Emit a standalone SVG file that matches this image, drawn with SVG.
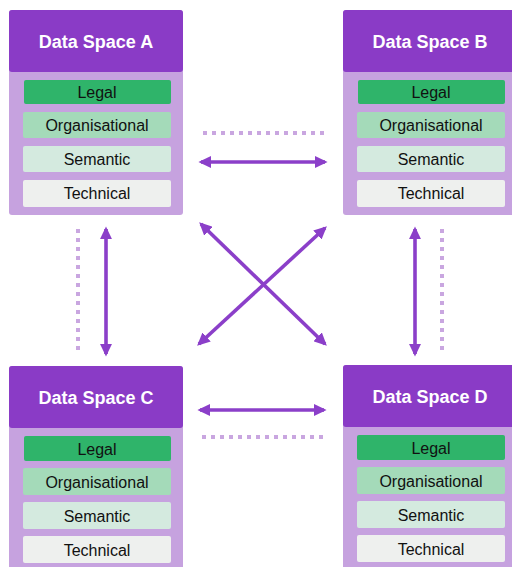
<svg xmlns="http://www.w3.org/2000/svg" width="512" height="567" viewBox="0 0 512 567">
  <defs>
    <marker id="head" viewBox="0 0 10 10" refX="8" refY="5" markerWidth="3.6" markerHeight="3.4" orient="auto-start-reverse" markerUnits="strokeWidth" preserveAspectRatio="none">
      <path d="M0,0 L10,5 L0,10 z" fill="#8b3fc9"/>
    </marker>
    <style>
      .body { fill: #c6a2df; }
      .head { fill: #8a3bc6; }
      .title { font-family: "Liberation Sans", Arial, sans-serif; font-weight: bold; font-size: 18px; fill: #ffffff; text-anchor: middle; }
      .lbl { font-family: "Liberation Sans", Arial, sans-serif; font-size: 16px; fill: #111111; text-anchor: middle; }
      .legal { fill: #2fb46a; }
      .org { fill: #a4dab9; }
      .sem { fill: #d4eadf; }
      .tech { fill: #eef0ee; }
      .link { stroke: #8b3fc9; stroke-width: 3.6; fill: none; marker-start: url(#head); marker-end: url(#head); }
      .dots { stroke: #c9a6e0; stroke-width: 4; stroke-dasharray: 4 5; fill: none; }
    </style>
  </defs>

  <!-- connectors -->
  <g id="connectors">
    <line class="dots" x1="203" y1="133" x2="327" y2="133"/>
    <line class="dots" x1="202" y1="437" x2="327" y2="437"/>
    <line class="dots" x1="78" y1="229" x2="78" y2="352"/>
    <line class="dots" x1="442" y1="229" x2="442" y2="352"/>
    <line class="link" x1="201" y1="162" x2="325" y2="162"/>
    <line class="link" x1="200" y1="410" x2="324" y2="410"/>
    <line class="link" x1="106" y1="229" x2="106" y2="354"/>
    <line class="link" x1="415" y1="229" x2="415" y2="354"/>
    <line class="link" x1="201" y1="224" x2="325" y2="344"/>
    <line class="link" x1="325" y1="228" x2="199" y2="344"/>
  </g>

  <!-- Data Space A -->
  <g id="node-a">
    <rect class="body" x="9" y="10" width="174" height="205" rx="3"/>
    <rect class="head" x="9" y="10" width="174" height="62" rx="3"/>
    <text class="title" x="96" y="48">Data Space A</text>
    <rect class="legal" x="24" y="80" width="147" height="24" rx="2"/>
    <text class="lbl" x="97" y="98">Legal</text>
    <rect class="org" x="23" y="112" width="148" height="26" rx="2"/>
    <text class="lbl" x="97" y="131">Organisational</text>
    <rect class="sem" x="23" y="146" width="148" height="26" rx="2"/>
    <text class="lbl" x="97" y="165">Semantic</text>
    <rect class="tech" x="23" y="180" width="148" height="27" rx="2"/>
    <text class="lbl" x="97" y="199">Technical</text>
  </g>

  <!-- Data Space B -->
  <g id="node-b">
    <rect class="body" x="343" y="10" width="174" height="205" rx="3"/>
    <rect class="head" x="343" y="10" width="174" height="62" rx="3"/>
    <text class="title" x="430" y="48">Data Space B</text>
    <rect class="legal" x="358" y="80" width="147" height="24" rx="2"/>
    <text class="lbl" x="431" y="98">Legal</text>
    <rect class="org" x="357" y="112" width="148" height="26" rx="2"/>
    <text class="lbl" x="431" y="131">Organisational</text>
    <rect class="sem" x="357" y="146" width="148" height="26" rx="2"/>
    <text class="lbl" x="431" y="165">Semantic</text>
    <rect class="tech" x="357" y="180" width="148" height="27" rx="2"/>
    <text class="lbl" x="431" y="199">Technical</text>
  </g>

  <!-- Data Space C -->
  <g id="node-c">
    <rect class="body" x="9" y="366" width="174" height="210" rx="3"/>
    <rect class="head" x="9" y="366" width="174" height="62" rx="3"/>
    <text class="title" x="96" y="404">Data Space C</text>
    <rect class="legal" x="24" y="436" width="147" height="25" rx="2"/>
    <text class="lbl" x="97" y="455">Legal</text>
    <rect class="org" x="23" y="468" width="148" height="27" rx="2"/>
    <text class="lbl" x="97" y="488">Organisational</text>
    <rect class="sem" x="23" y="502" width="148" height="27" rx="2"/>
    <text class="lbl" x="97" y="522">Semantic</text>
    <rect class="tech" x="23" y="536" width="148" height="27" rx="2"/>
    <text class="lbl" x="97" y="556">Technical</text>
  </g>

  <!-- Data Space D -->
  <g id="node-d">
    <rect class="body" x="343" y="365" width="174" height="210" rx="3"/>
    <rect class="head" x="343" y="365" width="174" height="62" rx="3"/>
    <text class="title" x="430" y="403">Data Space D</text>
    <rect class="legal" x="357" y="435" width="148" height="25" rx="2"/>
    <text class="lbl" x="431" y="454">Legal</text>
    <rect class="org" x="357" y="467" width="148" height="27" rx="2"/>
    <text class="lbl" x="431" y="487">Organisational</text>
    <rect class="sem" x="357" y="501" width="148" height="27" rx="2"/>
    <text class="lbl" x="431" y="521">Semantic</text>
    <rect class="tech" x="357" y="535" width="148" height="27" rx="2"/>
    <text class="lbl" x="431" y="555">Technical</text>
  </g>
</svg>
